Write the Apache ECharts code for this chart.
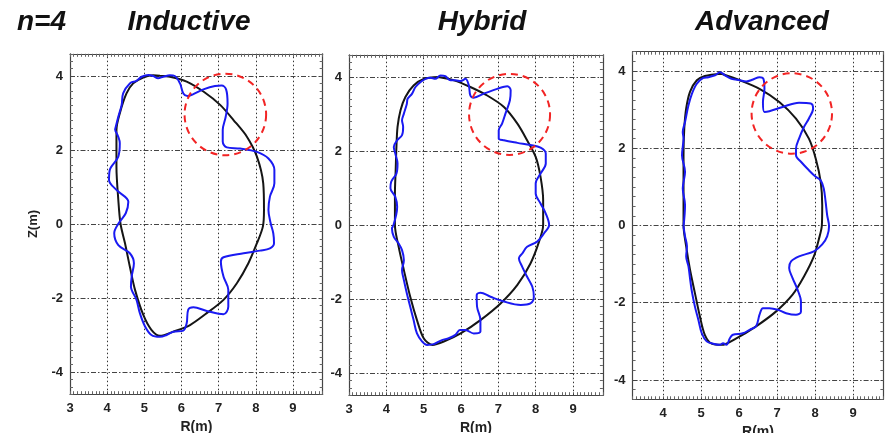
<!DOCTYPE html>
<html><head><meta charset="utf-8">
<script src="https://cdn.jsdelivr.net/npm/echarts@6/dist/echarts.min.js"></script>
<style>html,body{margin:0;padding:0;background:#fff}#c{width:891px;height:433px}</style>
</head><body><div id="c"></div>
<script>
// ---------------- data ----------------
const figureLabel = 'n=4';
const panelTitles = ['Inductive', 'Hybrid', 'Advanced'];
const xAxisName = 'R(m)';
const yAxisName = 'Z(m)';
const gridR = [4, 5, 6, 7, 8, 9];
const gridZ = [-4, -2, 0, 2, 4];

// Inductive: unperturbed boundary (black) and n=4 perturbed boundary (blue), [R, Z]
const inductiveBoundary = [[5.42,4.01],[5.69,3.98],[6.14,3.85],[6.59,3.58],[7.04,3.22],[7.40,2.81],[7.76,2.36],[8.03,1.82],[8.20,1.10],[8.22,0.38],[8.19,-0.07],[8.03,-0.52],[7.80,-1.06],[7.49,-1.60],[7.13,-2.05],[6.68,-2.41],[6.23,-2.73],[5.78,-2.91],[5.42,-3.02],[5.19,-2.86],[4.97,-2.45],[4.75,-1.78],[4.61,-1.15],[4.48,-0.52],[4.36,0.0],[4.30,0.65],[4.25,1.55],[4.25,2.54],[4.34,2.99],[4.52,3.53],[4.70,3.80],[4.97,3.96],[5.24,4.02],[5.42,4.01]];
const inductivePerturbed = [[4.21,2.54],[4.30,2.90],[4.39,3.22],[4.43,3.53],[4.61,3.80],[4.79,3.87],[4.93,3.98],[5.11,4.03],[5.24,4.00],[5.37,3.94],[5.51,3.98],[5.69,4.02],[5.82,4.00],[5.96,3.80],[6.05,3.53],[6.16,3.46],[6.32,3.51],[6.59,3.64],[6.90,3.73],[7.08,3.74],[7.20,3.64],[7.24,3.26],[7.19,2.90],[7.11,2.54],[7.11,2.23],[7.22,2.07],[7.58,2.04],[8.03,1.95],[8.34,1.77],[8.50,1.46],[8.50,1.10],[8.38,0.74],[8.34,0.38],[8.40,0.02],[8.47,-0.25],[8.49,-0.52],[8.38,-0.66],[8.11,-0.72],[7.67,-0.79],[7.13,-0.90],[7.06,-1.02],[7.13,-1.42],[7.26,-1.78],[7.26,-2.23],[7.13,-2.44],[6.68,-2.35],[6.32,-2.25],[6.18,-2.32],[6.14,-2.68],[6.05,-2.88],[5.78,-2.91],[5.60,-3.00],[5.42,-3.05],[5.19,-3.00],[5.02,-2.77],[4.88,-2.41],[4.79,-2.05],[4.64,-1.69],[4.66,-1.42],[4.72,-1.06],[4.61,-0.79],[4.30,-0.57],[4.19,-0.25],[4.31,0.02],[4.50,0.29],[4.57,0.60],[4.25,0.92],[4.05,1.19],[4.07,1.46],[4.30,1.82],[4.34,2.18],[4.21,2.54]];
const inductiveCircle = [7.18, 2.96, 1.10]; // centre R, centre Z, radius

// Hybrid
const hybridBoundary = [[5.40,4.0],[5.81,3.91],[6.25,3.73],[6.70,3.50],[7.15,3.19],[7.51,2.74],[7.77,2.29],[8.00,1.84],[8.13,1.30],[8.20,0.67],[8.20,0.0],[8.09,-0.45],[7.86,-1.04],[7.51,-1.62],[7.06,-2.12],[6.52,-2.57],[5.99,-2.93],[5.54,-3.15],[5.23,-3.24],[5.00,-3.06],[4.82,-2.57],[4.64,-1.94],[4.47,-1.22],[4.33,-0.59],[4.23,0.0],[4.23,0.85],[4.25,1.48],[4.27,2.11],[4.30,2.65],[4.38,3.10],[4.51,3.46],[4.73,3.77],[5.00,3.95],[5.40,4.0]];
const hybridPerturbed = [[4.18,-0.04],[4.29,0.49],[4.24,0.76],[4.11,0.99],[4.13,1.17],[4.27,1.39],[4.30,1.66],[4.24,1.93],[4.20,2.11],[4.29,2.29],[4.42,2.43],[4.45,2.65],[4.42,2.83],[4.47,3.01],[4.55,3.28],[4.57,3.41],[4.69,3.55],[4.78,3.73],[4.91,3.86],[5.05,3.95],[5.18,3.98],[5.31,3.95],[5.45,4.04],[5.58,4.02],[5.72,3.91],[5.85,3.91],[5.99,3.89],[6.12,3.95],[6.21,3.77],[6.25,3.50],[6.34,3.44],[6.61,3.55],[6.97,3.68],[7.24,3.75],[7.33,3.64],[7.31,3.37],[7.19,3.01],[7.10,2.74],[7.01,2.56],[7.01,2.34],[7.15,2.29],[7.51,2.22],[7.86,2.16],[8.13,2.09],[8.27,1.93],[8.27,1.66],[8.13,1.39],[8.00,1.12],[8.00,0.85],[8.13,0.58],[8.27,0.31],[8.36,0.0],[8.22,-0.23],[8.04,-0.45],[7.77,-0.59],[7.64,-0.77],[7.55,-0.90],[7.64,-1.13],[7.77,-1.40],[7.91,-1.67],[7.95,-1.94],[7.86,-2.12],[7.60,-2.16],[7.15,-2.07],[6.79,-1.94],[6.52,-1.83],[6.42,-1.89],[6.43,-2.21],[6.52,-2.57],[6.52,-2.88],[6.34,-2.93],[6.12,-2.84],[5.97,-2.84],[5.85,-2.97],[5.67,-3.06],[5.49,-3.11],[5.27,-3.22],[5.09,-3.24],[4.96,-3.15],[4.82,-2.93],[4.73,-2.57],[4.64,-2.21],[4.55,-1.85],[4.47,-1.49],[4.42,-1.22],[4.47,-0.95],[4.42,-0.68],[4.33,-0.50],[4.20,-0.32],[4.15,-0.09],[4.18,-0.04]];
const hybridCircle = [7.30, 2.99, 1.09];

// Advanced
const advancedBoundary = [[5.54,3.93],[6.02,3.76],[6.54,3.54],[7.06,3.20],[7.50,2.77],[7.84,2.25],[8.02,1.73],[8.15,1.13],[8.19,0.53],[8.18,0.0],[8.10,-0.36],[7.97,-0.80],[7.71,-1.32],[7.41,-1.79],[6.97,-2.23],[6.45,-2.61],[5.93,-2.92],[5.54,-3.09],[5.28,-3.06],[5.10,-2.83],[4.97,-2.35],[4.84,-1.75],[4.71,-1.14],[4.61,-0.54],[4.54,0.0],[4.54,0.96],[4.54,1.82],[4.56,2.51],[4.61,3.03],[4.71,3.46],[4.89,3.76],[5.10,3.87],[5.54,3.93]];
const advancedPerturbed = [[4.54,-0.02],[4.58,0.53],[4.52,0.96],[4.58,1.39],[4.50,1.82],[4.54,2.25],[4.52,2.42],[4.58,2.68],[4.67,3.11],[4.76,3.41],[4.89,3.67],[5.06,3.82],[5.19,3.84],[5.37,3.89],[5.50,3.97],[5.63,3.89],[5.80,3.80],[6.02,3.76],[6.19,3.73],[6.37,3.78],[6.54,3.84],[6.64,3.80],[6.67,3.54],[6.63,3.20],[6.67,2.94],[6.80,2.96],[7.15,3.07],[7.58,3.18],[7.89,3.16],[7.95,3.03],[7.84,2.77],[7.71,2.55],[7.58,2.25],[7.50,1.99],[7.50,1.82],[7.63,1.65],[7.84,1.43],[8.02,1.26],[8.15,1.17],[8.23,0.96],[8.28,0.61],[8.32,0.27],[8.37,-0.02],[8.32,-0.28],[8.19,-0.49],[7.97,-0.67],[7.58,-0.80],[7.37,-0.93],[7.32,-1.10],[7.41,-1.36],[7.54,-1.66],[7.63,-1.97],[7.63,-2.23],[7.50,-2.31],[7.24,-2.27],[7.02,-2.18],[6.80,-2.14],[6.63,-2.14],[6.54,-2.31],[6.45,-2.61],[6.28,-2.70],[6.10,-2.79],[5.84,-2.83],[5.76,-2.92],[5.67,-3.09],[5.58,-3.05],[5.50,-3.09],[5.32,-3.06],[5.15,-3.00],[5.02,-2.79],[4.93,-2.44],[4.84,-2.10],[4.76,-1.71],[4.71,-1.36],[4.67,-1.06],[4.61,-0.80],[4.63,-0.54],[4.58,-0.28],[4.54,-0.02]];
const advancedCircle = [7.39, 2.90, 1.05];

// ---------------- layout / styles ----------------
const FONT = '"Liberation Sans", Arial, sans-serif';
const panels = [
  {boundary: inductiveBoundary, perturbed: inductivePerturbed, circle: inductiveCircle,
   box: {left: 70, top: 53.8, width: 252.7, height: 340.4}, x: [3, 9.8], y: [-4.6, 4.6], yStep: 0.2, titleX: 189, nameGap: 22},
  {boundary: hybridBoundary, perturbed: hybridPerturbed, circle: hybridCircle,
   box: {left: 349, top: 54.8, width: 253.9, height: 340.4}, x: [3, 9.8], y: [-4.6, 4.6], yStep: 0.2, titleX: 482, nameGap: 21},
  {boundary: advancedBoundary, perturbed: advancedPerturbed, circle: advancedCircle,
   box: {left: 632.6, top: 51.7, width: 250.8, height: 347.6}, x: [3.2, 9.8], y: [-4.5, 4.5], yStep: 0.25, titleX: 762, nameGap: 21}
];

const isInt = v => Math.abs(v - Math.round(v)) < 1e-6;
const xFmt = v => isInt(v) ? String(Math.round(v)) : '';
const yFmt = v => (isInt(v) && Math.round(v) % 2 === 0) ? String(Math.round(v)) : '';
const frame = {show: true, onZero: false, lineStyle: {color: '#444', width: 1.2}};
const tick = {inside: true, length: 3, lineStyle: {color: '#666', width: 1}};
const labelStyle = {fontFamily: FONT, fontWeight: 'bold', fontSize: 13, color: '#222'};

const grid = [], xAxis = [], yAxis = [], series = [];
panels.forEach((p, i) => {
  grid.push(Object.assign({outerBoundsMode: 'none', containLabel: false}, p.box));
  xAxis.push({type: 'value', gridIndex: i, position: 'bottom', min: p.x[0], max: p.x[1], interval: 0.1,
    axisLine: frame, axisTick: tick,
    axisLabel: Object.assign({formatter: xFmt, margin: 8, showMinLabel: true, showMaxLabel: true}, labelStyle),
    splitLine: {show: false},
    name: xAxisName, nameLocation: 'middle', nameGap: p.nameGap,
    nameTextStyle: {fontFamily: FONT, fontWeight: 'bold', fontSize: 14, color: '#222'}});
  xAxis.push({type: 'value', gridIndex: i, position: 'top', min: p.x[0], max: p.x[1], interval: 0.1,
    axisLine: frame, axisTick: tick,
    axisLabel: {show: false}, splitLine: {show: false}});
  const yl = {type: 'value', gridIndex: i, position: 'left', min: p.y[0], max: p.y[1], interval: p.yStep,
    axisLine: frame, axisTick: tick,
    axisLabel: Object.assign({formatter: yFmt, margin: 7, showMinLabel: true, showMaxLabel: true}, labelStyle),
    splitLine: {show: false}};
  if (i === 0) {
    Object.assign(yl, {name: yAxisName, nameLocation: 'middle', nameRotate: 90, nameGap: 30,
      nameTextStyle: {fontFamily: FONT, fontWeight: 'bold', fontSize: 13, color: '#222'}});
  }
  yAxis.push(yl);
  yAxis.push({type: 'value', gridIndex: i, position: 'right', min: p.y[0], max: p.y[1], interval: p.yStep,
    axisLine: frame, axisTick: tick,
    axisLabel: {show: false}, splitLine: {show: false}});

  const vStyle = {color: '#333', width: 1, type: [1.5, 2.5]};
  const hStyle = {color: '#444', width: 1, type: [5, 2, 1.5, 2]};
  series.push({type: 'line', xAxisIndex: 2 * i, yAxisIndex: 2 * i, data: p.boundary,
    smooth: 0.3, symbol: 'none', z: 2, silent: true,
    lineStyle: {color: '#151515', width: 2},
    markLine: {silent: true, symbol: ['none', 'none'], label: {show: false}, z: 1, animation: false,
      emphasis: {disabled: true},
      data: gridR.map(v => ({xAxis: v, lineStyle: vStyle})).concat(gridZ.map(v => ({yAxis: v, lineStyle: hStyle})))}});
  series.push({type: 'line', xAxisIndex: 2 * i, yAxisIndex: 2 * i, data: p.perturbed,
    smooth: 0.35, symbol: 'none', z: 3, silent: true,
    lineStyle: {color: '#1a1af2', width: 2}});
  series.push({type: 'custom', xAxisIndex: 2 * i, yAxisIndex: 2 * i, data: [p.circle], z: 4, silent: true,
    encode: {x: 0, y: 1},
    renderItem: (params, api) => {
      const c = api.coord([api.value(0), api.value(1)]);
      const s = api.size([api.value(2), api.value(2)]);
      return {type: 'circle', shape: {cx: c[0], cy: c[1], r: (s[0] + s[1]) / 2},
        style: {fill: 'none', stroke: '#f22424', lineWidth: 2, lineDash: [7, 5]}};
    }});
});

const graphic = [
  {type: 'text', x: 17, y: 22, style: {text: figureLabel, font: 'italic bold 28px ' + FONT, fill: '#111', textAlign: 'left', textVerticalAlign: 'middle'}}
].concat(panels.map((p, i) => ({type: 'text', x: p.titleX, y: 22,
  style: {text: panelTitles[i], font: 'italic bold 28px ' + FONT, fill: '#111', textAlign: 'center', textVerticalAlign: 'middle'}})));

const chart = echarts.init(document.getElementById('c'), null, {renderer: 'canvas'});
chart.setOption({backgroundColor: '#fff', animation: false, grid, xAxis, yAxis, series, graphic});
</script></body></html>
